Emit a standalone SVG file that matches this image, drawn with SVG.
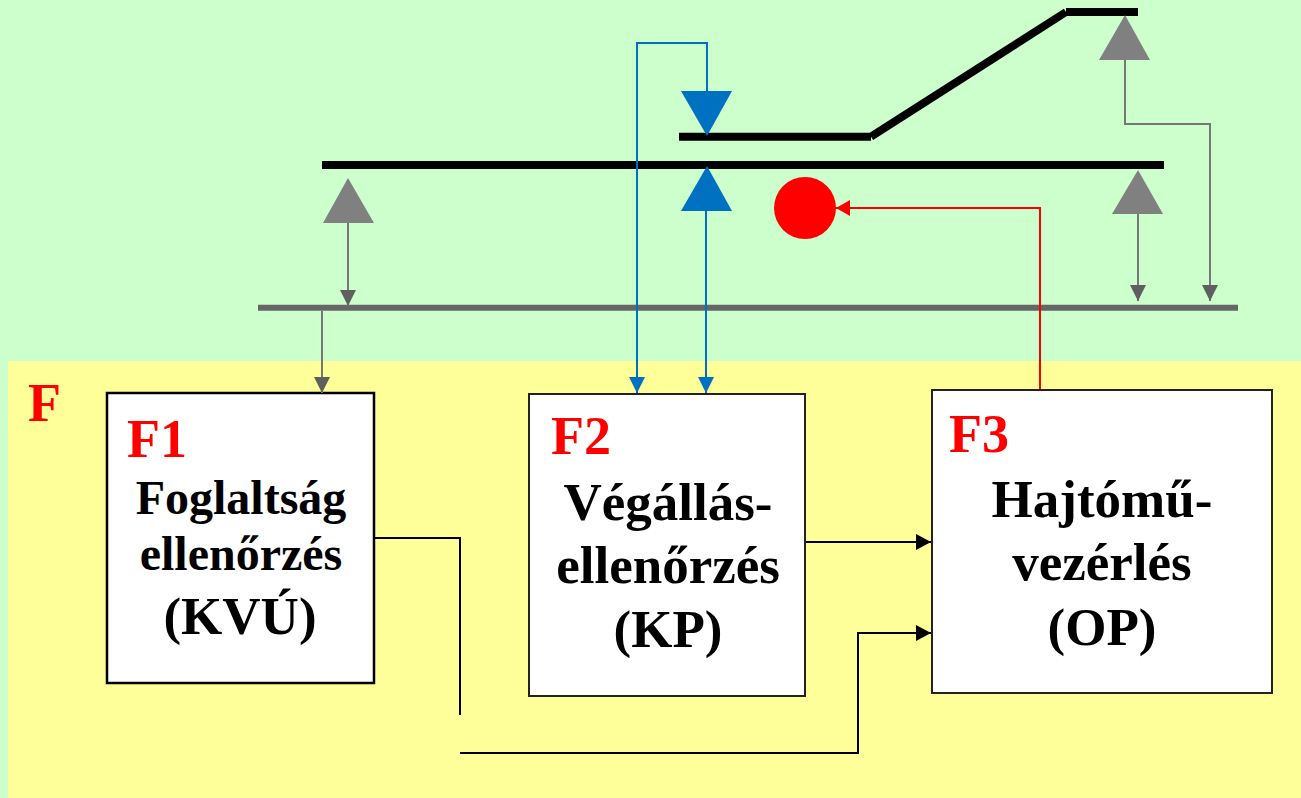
<svg xmlns="http://www.w3.org/2000/svg" width="1301" height="798" viewBox="0 0 1301 798">
<style>
text{font-family:"Liberation Serif",serif;font-weight:bold;text-anchor:middle;fill:#000}
.t{fill:#f00;font-size:54px;text-anchor:start}
.m{font-size:48px}
.l{font-size:53px}
.b{fill:#fff;stroke:#222;stroke-width:2}
.g{fill:none;stroke:#777;stroke-width:2}
.bl{fill:none;stroke:#0070c0;stroke-width:2}
.r{fill:none;stroke:#f00;stroke-width:2}
.k{fill:none;stroke:#000;stroke-width:2}
.tr{fill:none;stroke:#000;stroke-width:8}
</style>
<defs>
<marker id="ag" markerUnits="userSpaceOnUse" markerWidth="16" markerHeight="16" refX="16" refY="8" orient="auto"><path d="M0 0L16 8L0 16Z" fill="#5f5f5f"/></marker>
<marker id="ab" markerUnits="userSpaceOnUse" markerWidth="16" markerHeight="16" refX="16" refY="8" orient="auto"><path d="M0 0L16 8L0 16Z" fill="#0070c0"/></marker>
<marker id="ar" markerUnits="userSpaceOnUse" markerWidth="16" markerHeight="16" refX="14" refY="8" orient="auto"><path d="M0 0L14 8L0 16Z" fill="#f00"/></marker>
<marker id="ak" markerUnits="userSpaceOnUse" markerWidth="16" markerHeight="16" refX="15" refY="8" orient="auto"><path d="M0 0L15 8L0 16Z" fill="#000"/></marker>
</defs>
<rect width="1301" height="798" fill="#ccffcc"/>
<rect x="8" y="361" width="1293" height="437" fill="#ffff99"/>
<text class="t" x="28" y="421">F</text>
<g id="track">
<path class="tr" d="M322 165H1164M679 136.700H871M871 136.700L1066 12M1066 12H1138"/>
<path d="M258 307.700H1238" stroke="#666" stroke-width="6" fill="none"/>
</g>
<g id="signals">
<path d="M348 178L374 223H323Z" fill="#808080"/>
<path d="M1138 170L1163 214H1112Z" fill="#808080"/>
<path d="M1125 15L1150 60H1099Z" fill="#808080"/>
<path d="M707 136L681 91H732Z" fill="#0070c0"/>
<path d="M707 166L732 211H681Z" fill="#0070c0"/>
<circle cx="805" cy="208" r="31" fill="#f00"/>
</g>
<g id="F1"><rect class="b" style="stroke-width:2.500;stroke:#000" x="107" y="393" width="267" height="290"/>
<text class="t" x="127" y="457">F1</text>
<text class="m" x="241" y="514">Foglaltság</text>
<text class="m" x="241" y="570">ellenőrzés</text>
<text class="l" x="240" y="634">(KVÚ)</text></g>
<g id="F2"><rect class="b" x="529" y="394" width="276" height="302"/>
<text class="t" x="551" y="454">F2</text>
<text class="l" x="668" y="520">Végállás-</text>
<text class="l" x="668" y="583">ellenőrzés</text>
<text class="l" x="668" y="647">(KP)</text></g>
<g id="F3"><rect class="b" x="932" y="390" width="340" height="303"/>
<text class="t" x="949" y="452">F3</text>
<text class="l" x="1102" y="517">Hajtómű-</text>
<text class="l" x="1102" y="580">vezérlés</text>
<text class="l" x="1102" y="645">(OP)</text></g>
<g id="connectors">
<path class="g" d="M348 223V306" marker-end="url(#ag)"/>
<path class="g" d="M322 311V393" marker-end="url(#ag)"/>
<path class="g" d="M1138 214V301" marker-end="url(#ag)"/>
<path class="g" d="M1125 60V124H1210V301" marker-end="url(#ag)"/>
<path class="bl" d="M707 91V43H637V393" marker-end="url(#ab)"/>
<path class="bl" d="M706 211V393" marker-end="url(#ab)"/>
<path class="r" d="M1040 389V208H836" marker-end="url(#ar)"/>
<path class="k" d="M806 542H931" marker-end="url(#ak)"/>
<path class="k" d="M374 538H460V715"/>
<path class="k" d="M460 753H858V633H931" marker-end="url(#ak)"/>
</g>
</svg>
